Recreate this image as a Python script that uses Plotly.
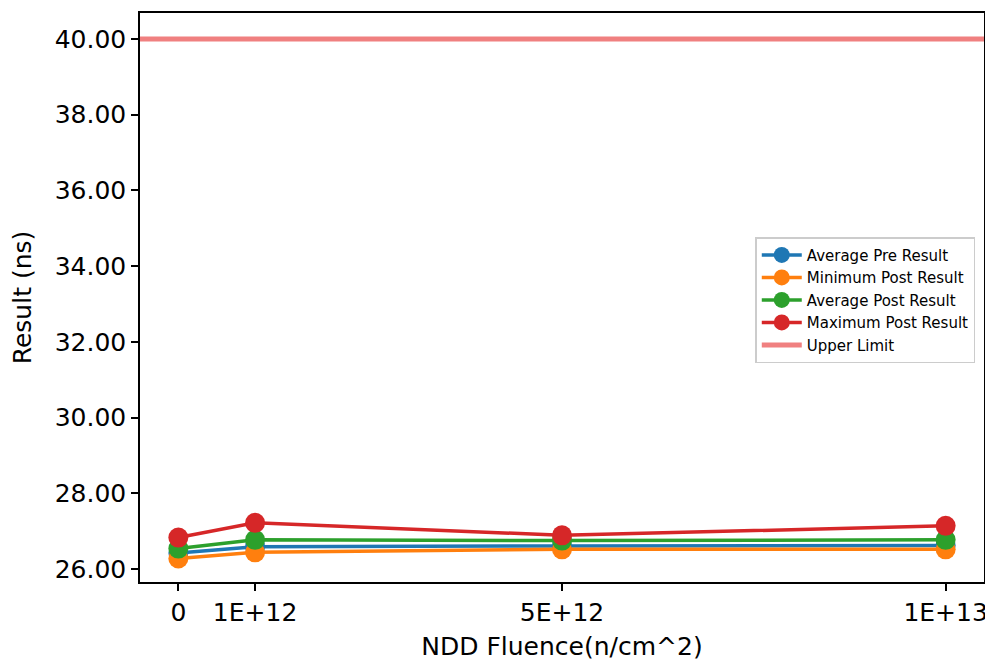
import plotly.graph_objects as go

fluence = [0, 1e12, 5e12, 1e13]
tick_labels = ["0", "1E+12", "5E+12", "1E+13"]
avg_pre = [26.42, 26.59, 26.61, 26.62]
min_post = [26.28, 26.44, 26.52, 26.52]
avg_post = [26.54, 26.77, 26.75, 26.77]
max_post = [26.83, 27.22, 26.89, 27.14]
upper_limit = 40.0
y_ticks = [26, 28, 30, 32, 34, 36, 38, 40]

span = max(fluence) - min(fluence)
x_range = [min(fluence) - 0.05 * span, max(fluence) + 0.05 * span]

series = [
    ("Average Pre Result", avg_pre, "#1f77b4"),
    ("Minimum Post Result", min_post, "#ff7f0e"),
    ("Average Post Result", avg_post, "#2ca02c"),
    ("Maximum Post Result", max_post, "#d62728"),
]

fig = go.Figure()
for name, vals, col in series:
    fig.add_trace(go.Scatter(
        x=fluence, y=vals, name=name, mode="lines+markers",
        line=dict(color=col, width=3.5),
        marker=dict(color=col, size=20, line=dict(width=0)),
    ))

fig.add_trace(go.Scatter(
    x=x_range, y=[upper_limit, upper_limit], name="Upper Limit", mode="lines",
    line=dict(color="#F08080", width=5),
))

axis_common = dict(
    showline=True, linecolor="black", linewidth=1.5, mirror=True,
    ticks="outside", ticklen=7, tickwidth=1.5, tickcolor="black",
    showgrid=False, zeroline=False, automargin=False,
    tickfont=dict(family="DejaVu Sans", size=25, color="black"),
)

fig.update_layout(
    width=985, height=653,
    margin=dict(l=132, r=9, t=5, b=79),
    plot_bgcolor="white", paper_bgcolor="white",
    font=dict(family="DejaVu Sans", color="black"),
    xaxis=dict(range=x_range, tickvals=fluence, ticktext=tick_labels,
               title=dict(text="NDD Fluence(n/cm^2)", font=dict(size=25), standoff=16),
               **axis_common),
    yaxis=dict(range=[25.657, 40.687], tickvals=y_ticks, tickformat=".2f",
               title=dict(text="Result (ns)", font=dict(size=25), standoff=16),
               **axis_common),
    legend=dict(x=0.729, y=0.606, xanchor="left", yanchor="top",
                font=dict(size=15, family="DejaVu Sans"),
                bordercolor="#cccccc", borderwidth=1.5, bgcolor="white",
                tracegroupgap=0, itemwidth=40),
    showlegend=True,
)

fig.write_html("out.html")
